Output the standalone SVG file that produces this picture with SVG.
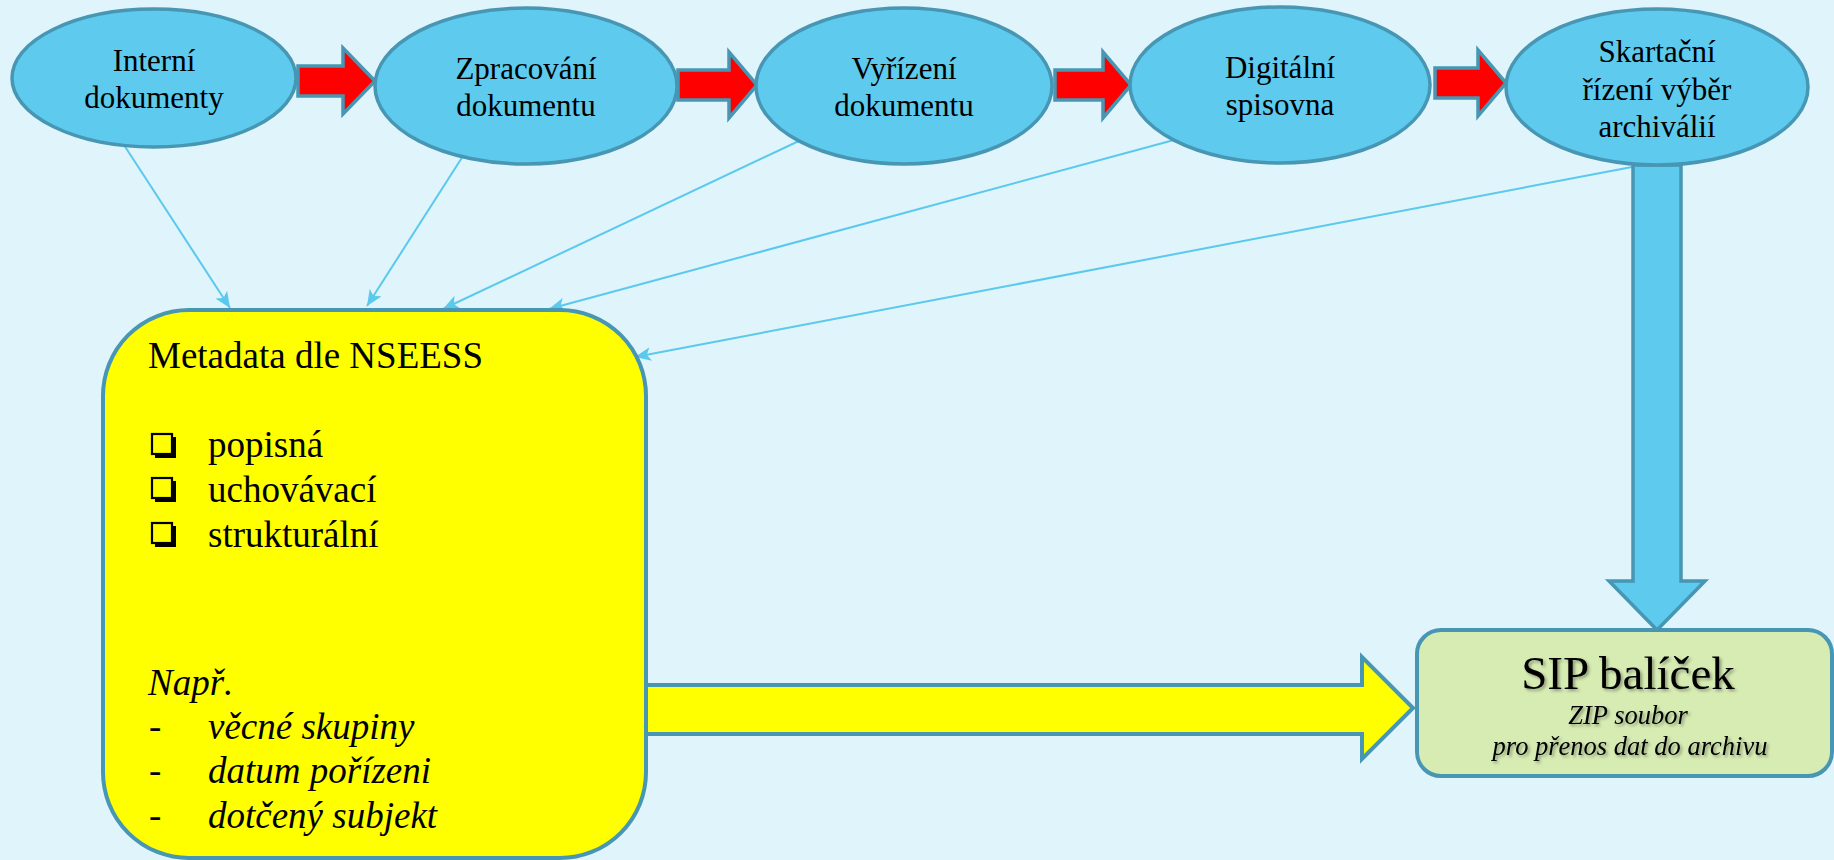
<svg xmlns="http://www.w3.org/2000/svg" width="1834" height="860" viewBox="0 0 1834 860">
<style>
.bg{fill:#DFF4FB}
.ell{fill:#5DCAEE;stroke:#4796B3;stroke-width:3.5}
.red{fill:#FF0000;stroke:#4796B3;stroke-width:3.5;stroke-linejoin:miter}
.blu{fill:#5DCAEE;stroke:#4796B3;stroke-width:3.5}
.yel{fill:#FFFF00;stroke:#4796B3;stroke-width:4}
.grn{fill:#D6ECB3;stroke:#4796B3;stroke-width:4}
.ln{stroke:#5BC8EE;stroke-width:2;fill:none;marker-end:url(#ah)}
.t{font-family:"Liberation Serif","Times New Roman",serif;fill:#000}
.et{font-size:31px;text-anchor:middle}
.bt{font-size:37px}
.it{font-style:italic}
.cb{fill:none;stroke:#000;stroke-width:2.2}
.cs{fill:#000}
</style>
<defs>
<marker id="ah" markerUnits="userSpaceOnUse" markerWidth="18" markerHeight="14" refX="16" refY="7" orient="auto">
<path d="M0,0 L16,7 L0,14 L4,7 Z" fill="#5BC8EE"/>
</marker>
<filter id="sh" x="-10%" y="-20%" width="120%" height="150%">
<feDropShadow dx="2" dy="2" stdDeviation="1.5" flood-color="#000" flood-opacity="0.35"/>
</filter>
</defs>
<rect class="bg" x="0" y="0" width="1834" height="860"/>

<g id="connectors">
<line class="ln" x1="124" y1="145" x2="230" y2="308"/>
<line class="ln" x1="463" y1="156" x2="367" y2="306"/>
<line class="ln" x1="801" y1="140" x2="443" y2="309"/>
<line class="ln" x1="1174" y1="140" x2="549" y2="309"/>
<line class="ln" x1="1632" y1="167" x2="635" y2="357"/>
<path class="red" d="M298,66 L343,66 L343,48 L375,81 L343,114 L343,96 L298,96 Z"/>
<path class="red" d="M678,70 L729,70 L729,52 L757,85 L729,118 L729,100 L678,100 Z"/>
<path class="red" d="M1055,70 L1103,70 L1103,52 L1131,85 L1103,118 L1103,100 L1055,100 Z"/>
<path class="red" d="M1435,68 L1478,68 L1478,50 L1506,83 L1478,116 L1478,98 L1435,98 Z"/>
<path class="blu" d="M1633,165 L1681,165 L1681,581 L1705,581 L1657,630 L1609,581 L1633,581 Z"/>
<path class="yel" d="M646,685 L1362,685 L1362,657 L1413,708 L1362,759 L1362,734 L646,734 Z"/>
</g>

<g id="n1">
<ellipse class="ell" cx="154" cy="78" rx="142" ry="69"/>
<text class="t et" x="154" y="71">Interní</text>
<text class="t et" x="154" y="108">dokumenty</text>
</g>
<g id="n2">
<ellipse class="ell" cx="526" cy="86" rx="151" ry="78"/>
<text class="t et" x="526" y="79">Zpracování</text>
<text class="t et" x="526" y="116">dokumentu</text>
</g>
<g id="n3">
<ellipse class="ell" cx="904" cy="86" rx="148" ry="78"/>
<text class="t et" x="904" y="79">Vyřízení</text>
<text class="t et" x="904" y="116">dokumentu</text>
</g>
<g id="n4">
<ellipse class="ell" cx="1280" cy="85" rx="150" ry="78"/>
<text class="t et" x="1280" y="78">Digitální</text>
<text class="t et" x="1280" y="115">spisovna</text>
</g>
<g id="n5">
<ellipse class="ell" cx="1657" cy="87" rx="151" ry="78"/>
<text class="t et" x="1657" y="62">Skartační</text>
<text class="t et" x="1657" y="100">řízení výběr</text>
<text class="t et" x="1657" y="137">archiválií</text>
</g>

<g id="metadata">
<rect class="yel" x="103" y="310" width="543" height="548" rx="86" ry="86"/>
<text class="t bt" x="148" y="368">Metadata dle NSEESS</text>
<g>
<rect class="cs" x="155" y="437" width="21" height="21"/>
<rect fill="#FFFF00" stroke="#000" stroke-width="2.2" x="152" y="434" width="20" height="20"/>
<rect class="cs" x="155" y="481" width="21" height="21"/>
<rect fill="#FFFF00" stroke="#000" stroke-width="2.2" x="152" y="478" width="20" height="20"/>
<rect class="cs" x="155" y="526" width="21" height="21"/>
<rect fill="#FFFF00" stroke="#000" stroke-width="2.2" x="152" y="523" width="20" height="20"/>
</g>
<text class="t bt" x="208" y="457">popisná</text>
<text class="t bt" x="208" y="502">uchovávací</text>
<text class="t bt" x="208" y="547">strukturální</text>
<text class="t bt it" x="148" y="695">Např.</text>
<text class="t bt" x="149" y="739">-</text>
<text class="t bt it" x="208" y="739">věcné skupiny</text>
<text class="t bt" x="149" y="783">-</text>
<text class="t bt it" x="208" y="783">datum pořízeni</text>
<text class="t bt" x="149" y="828">-</text>
<text class="t bt it" x="208" y="828">dotčený subjekt</text>
</g>

<g id="sip">
<rect class="grn" x="1417" y="630" width="415" height="146" rx="24" ry="24"/>
<text class="t" filter="url(#sh)" x="1628" y="689" font-size="47" text-anchor="middle">SIP balíček</text>
<text class="t it" filter="url(#sh)" x="1628" y="724" font-size="26.5" text-anchor="middle">ZIP soubor</text>
<text class="t it" filter="url(#sh)" x="1630" y="755" font-size="26.5" text-anchor="middle">pro přenos dat do archivu</text>
</g>
</svg>
